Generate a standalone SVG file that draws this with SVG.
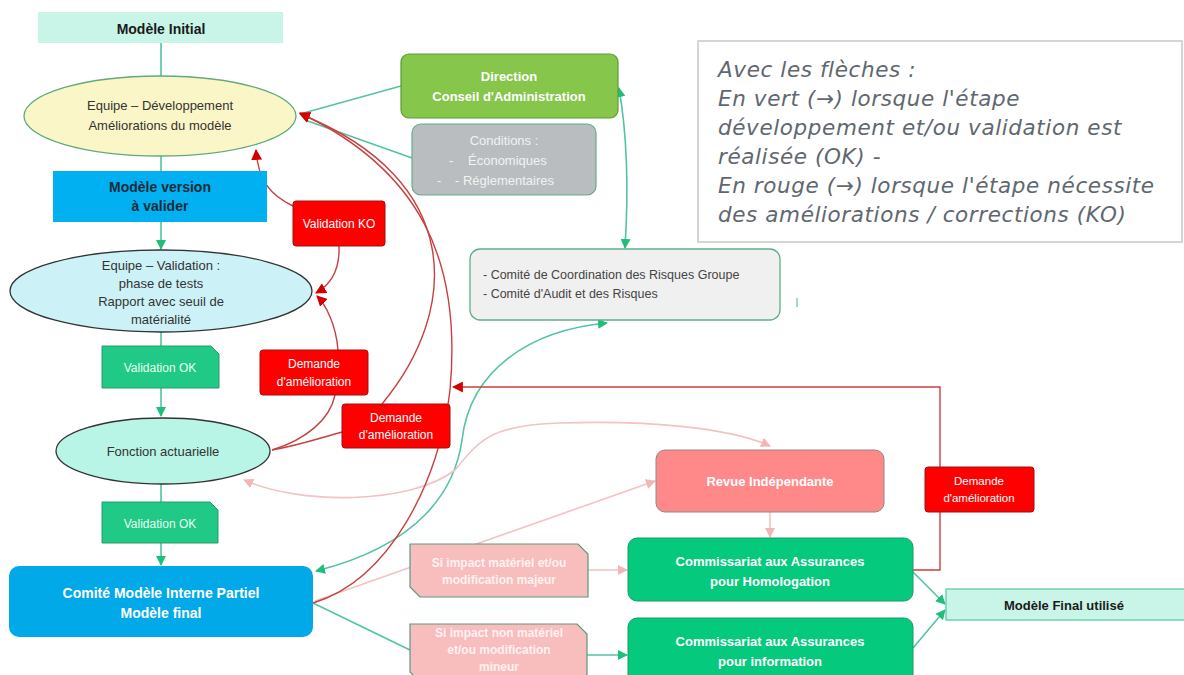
<svg xmlns="http://www.w3.org/2000/svg" width="1184" height="675" viewBox="0 0 1184 675">
<style>
.t{font-family:"Liberation Sans",Arial,sans-serif;text-anchor:middle}
.b{font-weight:bold}
.teal{fill:none;stroke:#52c3a6;stroke-width:1.6}
.red{fill:none;stroke:#c8403f;stroke-width:1.4}
.pink{fill:none;stroke:#f3c2c2;stroke-width:1.6}
.redbox{fill:#ff0000;stroke:#9a1010;stroke-width:1}
.redtxt{fill:#ffffff;font-size:12px}
.leg{font-family:"DejaVu Sans",sans-serif;font-style:italic;font-size:21.5px;letter-spacing:0.6px;fill:#5f6770}
</style>
<defs>
<marker id="ag" viewBox="0 0 10 10" refX="9" refY="5" markerWidth="10" markerHeight="10" markerUnits="userSpaceOnUse" orient="auto-start-reverse"><path d="M0,0L10,5L0,10z" fill="#1dbf7b"/></marker>
<marker id="ar" viewBox="0 0 10 10" refX="9" refY="5" markerWidth="11" markerHeight="11" markerUnits="userSpaceOnUse" orient="auto-start-reverse"><path d="M0,0L10,5L0,10z" fill="#d40000"/></marker>
<marker id="ap" viewBox="0 0 10 10" refX="9" refY="5" markerWidth="10" markerHeight="10" markerUnits="userSpaceOnUse" orient="auto-start-reverse"><path d="M0,0L10,5L0,10z" fill="#f2b6b6"/></marker>
</defs>
<rect width="1184" height="675" fill="#ffffff"/>

<g id="connectors">
<path class="teal" d="M161,43 L161,76"/>
<path class="teal" d="M161,156 L161,171"/>
<path class="teal" d="M161,222 L161,249" marker-end="url(#ag)"/>
<path class="teal" d="M161,332 L161,346"/>
<path class="teal" d="M161,388 L161,416" marker-end="url(#ag)"/>
<path class="teal" d="M161,484 L161,502"/>
<path class="teal" d="M161,543 L161,565" marker-end="url(#ag)"/>
<path class="teal" d="M401,86 L300,114"/>
<path class="teal" d="M412,158 L305,120"/>
<path class="teal" d="M619,88 C628,140 628,200 625,248" marker-start="url(#ag)" marker-end="url(#ag)"/>
<path class="teal" d="M316,571 C420,545 455,490 462,440 C470,370 530,330 607,323" marker-start="url(#ag)" marker-end="url(#ag)"/>
<path class="teal" d="M313,603 L410,650"/>
<path class="teal" d="M587,655 L627,655" marker-end="url(#ag)"/>
<path class="teal" d="M913,572 L945,604" marker-end="url(#ag)"/>
<path class="teal" d="M913,648 L945,610" marker-end="url(#ag)"/>

<path class="pink" d="M315,601 L655,481" marker-end="url(#ap)"/>
<path class="pink" d="M244,480 C300,505 410,505 455,470 C480,440 490,425 560,423 C650,420 730,428 770,446" marker-start="url(#ap)" marker-end="url(#ap)"/>
<path class="pink" d="M588,570 L627,570" marker-end="url(#ap)"/>
<path class="pink" d="M770,512 L770,537" marker-end="url(#ap)"/>

<path class="red" d="M293,206 C270,195 258,180 256,150" marker-end="url(#ar)"/>
<path class="red" d="M339,246 C340,270 330,285 316,293" marker-end="url(#ar)"/>
<path class="red" d="M338,350 C336,325 326,305 317,296" marker-end="url(#ar)"/>
<path class="red" d="M272,450 C305,440 330,420 335,395"/>
<path class="red" d="M272,450 C300,445 320,438 342,432"/>
<path class="red" d="M382,404 C460,310 465,180 300,114" marker-end="url(#ar)"/>
<path class="red" d="M313,603 C390,580 440,480 450,390 C462,260 420,170 300,113" marker-end="url(#ar)"/>
<path class="red" d="M913,570 L940,570 L940,387 L453,387" marker-end="url(#ar)"/>
</g>

<g id="modele-initial">
<rect x="38" y="12" width="245" height="31" fill="#c8f5e8"/>
<text class="t b" x="161" y="34" font-size="14" fill="#1a1a1a">Modèle Initial</text>
</g>

<g id="equipe-dev">
<ellipse cx="160" cy="116" rx="136" ry="40" fill="#fbf6c8" stroke="#62a97c" stroke-width="1.3"/>
<text class="t" x="160" y="110" font-size="13" fill="#333">Equipe – Développement</text>
<text class="t" x="160" y="130" font-size="13" fill="#333">Améliorations du modèle</text>
</g>

<g id="modele-version">
<rect x="53" y="171" width="214" height="51" fill="#00b0f0"/>
<text class="t b" x="160" y="192" font-size="14" fill="#1b2a3a">Modèle version</text>
<text class="t b" x="160" y="211" font-size="14" fill="#1b2a3a">à valider</text>
</g>

<g id="equipe-validation">
<ellipse cx="161" cy="291" rx="151" ry="41" fill="#ccf2f8" stroke="#333" stroke-width="1.3"/>
<text class="t" x="161" y="270" font-size="13" fill="#333">Equipe – Validation :</text>
<text class="t" x="161" y="288" font-size="13" fill="#333">phase de tests</text>
<text class="t" x="161" y="306" font-size="13" fill="#333">Rapport avec seuil de</text>
<text class="t" x="161" y="324" font-size="13" fill="#333">matérialité</text>
</g>

<g id="validation-ok-1">
<path d="M102,346 L211,346 L219,354 L219,388 L102,388 Z" fill="#20c985" stroke="#2a9a6a" stroke-width="1"/>
<text class="t" x="160" y="372" font-size="12" fill="#e8fff4">Validation OK</text>
</g>

<g id="fonction-actuarielle">
<ellipse cx="163" cy="451" rx="107" ry="33" fill="#b8f5e6" stroke="#333" stroke-width="1.3"/>
<text class="t" x="163" y="456" font-size="13" fill="#333">Fonction actuarielle</text>
</g>

<g id="validation-ok-2">
<path d="M102,502 L210,502 L218,510 L218,543 L102,543 Z" fill="#20c985" stroke="#2a9a6a" stroke-width="1"/>
<text class="t" x="160" y="528" font-size="12" fill="#e8fff4">Validation OK</text>
</g>

<g id="comite-modele">
<rect x="9" y="566" width="304" height="71" rx="10" fill="#02a9e8"/>
<text class="t b" x="161" y="598" font-size="14" fill="#ffffff">Comité Modèle Interne Partiel</text>
<text class="t b" x="161" y="618" font-size="14" fill="#ffffff">Modèle final</text>
</g>

<g id="direction">
<rect x="401" y="54" width="217" height="64" rx="8" fill="#86c64a" stroke="#5e9c35" stroke-width="1.2"/>
<text class="t b" x="509" y="81" font-size="13" fill="#ffffff">Direction</text>
<text class="t b" x="509" y="101" font-size="13" fill="#ffffff">Conseil d'Administration</text>
</g>

<g id="conditions">
<rect x="412" y="124" width="184" height="71" rx="9" fill="#b9bdc0" stroke="#5fae88" stroke-width="1.2"/>
<text class="t" x="504" y="145" font-size="13" fill="#f2f2f2">Conditions :</text>
<text x="449" y="165" font-size="13" fill="#f2f2f2" font-family="Liberation Sans,Arial,sans-serif">-</text>
<text x="468" y="165" font-size="13" fill="#f2f2f2" font-family="Liberation Sans,Arial,sans-serif">Économiques</text>
<text x="437" y="185" font-size="13" fill="#f2f2f2" font-family="Liberation Sans,Arial,sans-serif">-</text>
<text x="455" y="185" font-size="13" fill="#f2f2f2" font-family="Liberation Sans,Arial,sans-serif">- Réglementaires</text>
</g>

<g id="comites-risques">
<rect x="470" y="249" width="310" height="71" rx="10" fill="#f0f0f0" stroke="#5fae88" stroke-width="1.3"/>
<text x="483" y="279" font-size="12.5" fill="#444" font-family="Liberation Sans,Arial,sans-serif">- Comité de Coordination des Risques Groupe</text>
<text x="483" y="298" font-size="12.5" fill="#444" font-family="Liberation Sans,Arial,sans-serif">- Comité d'Audit et des Risques</text>
</g>
<line x1="797" y1="298" x2="797" y2="307" stroke="#7ccfb6" stroke-width="1.5"/>

<g id="legende">
<rect x="698" y="41" width="484" height="201" fill="#ffffff" stroke="#c8c8c8" stroke-width="1.5"/>
<text class="leg" x="718" y="77">Avec les flèches :</text>
<text class="leg" x="718" y="106">En vert (→) lorsque l'étape</text>
<text class="leg" x="718" y="135">développement et/ou validation est</text>
<text class="leg" x="718" y="164">réalisée (OK) -</text>
<text class="leg" x="718" y="193">En rouge (→) lorsque l'étape nécessite</text>
<text class="leg" x="718" y="222">des améliorations / corrections (KO)</text>
</g>

<g id="validation-ko">
<rect class="redbox" x="293" y="201" width="92" height="45" rx="3"/>
<text class="t redtxt" x="339" y="228">Validation KO</text>
</g>

<g id="demande-1">
<rect class="redbox" x="260" y="350" width="108" height="45" rx="3"/>
<text class="t redtxt" x="314" y="368">Demande</text>
<text class="t redtxt" x="314" y="386">d'amélioration</text>
</g>

<g id="demande-2">
<rect class="redbox" x="342" y="404" width="108" height="44" rx="3"/>
<text class="t redtxt" x="396" y="422">Demande</text>
<text class="t redtxt" x="396" y="439">d'amélioration</text>
</g>

<g id="demande-3">
<rect class="redbox" x="925" y="467" width="109" height="45" rx="3"/>
<text class="t" x="979" y="485" font-size="11.5" fill="#fff">Demande</text>
<text class="t" x="979" y="502" font-size="11.5" fill="#fff">d'amélioration</text>
</g>

<g id="revue">
<rect x="656" y="450" width="228" height="62" rx="9" fill="#ff8989" stroke="#8a8a8a" stroke-width="1"/>
<text class="t b" x="770" y="486" font-size="13" fill="#ffffff">Revue Indépendante</text>
</g>

<g id="si-impact-materiel">
<path d="M410,544 L578,544 L588,554 L588,597 L420,597 L410,587 Z" fill="#f8bdbd" stroke="#5a9a7a" stroke-width="1.2"/>
<text class="t b" x="499" y="567" font-size="12" fill="#fff2f2">Si impact matériel et/ou</text>
<text class="t b" x="499" y="584" font-size="12" fill="#fff2f2">modification majeur</text>
</g>

<g id="si-impact-non-materiel">
<path d="M410,624 L577,624 L587,634 L587,682 L420,682 L410,672 Z" fill="#f8bdbd" stroke="#5a9a7a" stroke-width="1.2"/>
<text class="t b" x="499" y="637" font-size="12" fill="#fff2f2">Si impact non matériel</text>
<text class="t b" x="499" y="654" font-size="12" fill="#fff2f2">et/ou modification</text>
<text class="t b" x="499" y="671" font-size="12" fill="#fff2f2">mineur</text>
</g>

<g id="caa-homologation">
<rect x="628" y="538" width="285" height="63" rx="9" fill="#05c97d" stroke="#1a9a62" stroke-width="1"/>
<text class="t b" x="770" y="566" font-size="13" fill="#ffffff">Commissariat aux Assurances</text>
<text class="t b" x="770" y="586" font-size="13" fill="#ffffff">pour Homologation</text>
</g>

<g id="caa-information">
<rect x="628" y="618" width="285" height="68" rx="9" fill="#05c97d" stroke="#1a9a62" stroke-width="1"/>
<text class="t b" x="770" y="646" font-size="13" fill="#ffffff">Commissariat aux Assurances</text>
<text class="t b" x="770" y="666" font-size="13" fill="#ffffff">pour information</text>
</g>

<g id="modele-final-utilise">
<rect x="946" y="589" width="240" height="31" fill="#c8f5e8" stroke="#5fcaa8" stroke-width="1.3"/>
<text class="t b" x="1064" y="610" font-size="13" fill="#1a1a1a">Modèle Final utilisé</text>
</g>
</svg>
